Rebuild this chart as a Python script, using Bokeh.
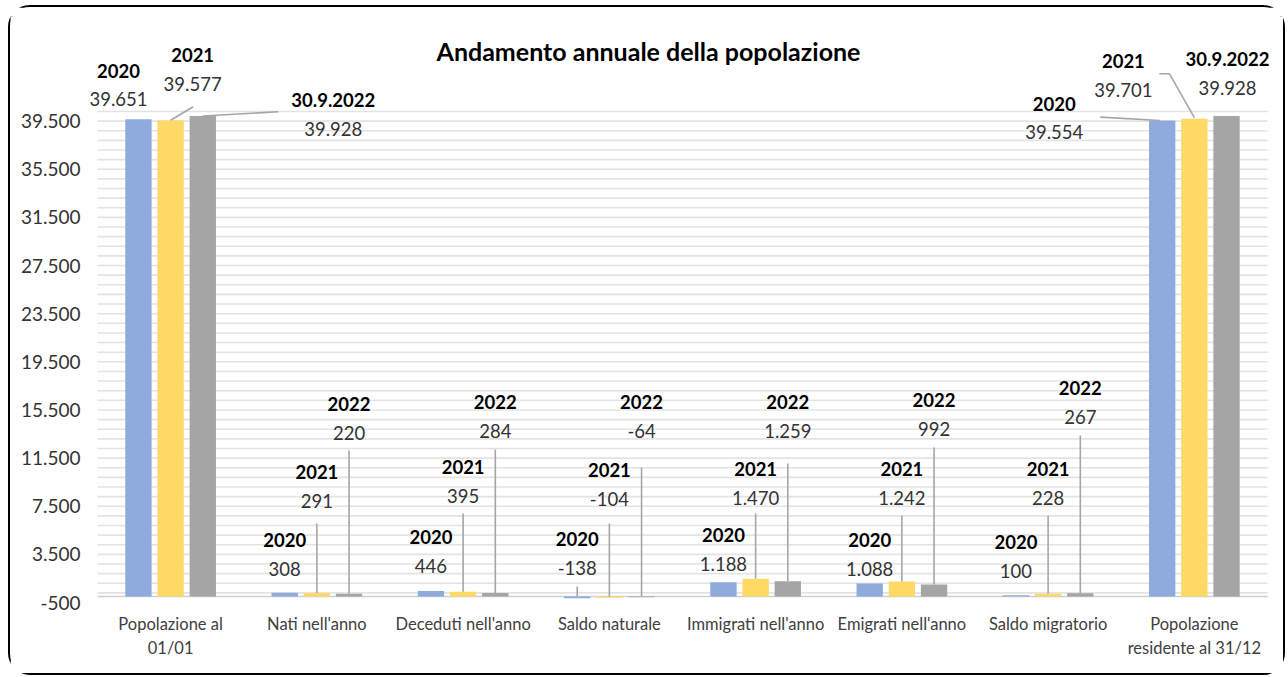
from bokeh.plotting import figure
from bokeh.models import FixedTicker, Range1d
from bokeh.embed import file_html
from bokeh.resources import INLINE
from bokeh.core.properties import value

# ---------------- data ----------------
categories = ["Popolazione al\n01/01", "Nati nell'anno", "Deceduti nell'anno", "Saldo naturale",
              "Immigrati nell'anno", "Emigrati nell'anno", "Saldo migratorio",
              "Popolazione\nresidente al 31/12"]
series_years = ["2020", "2021", "2022"]
series_years_totals = ["2020", "2021", "30.9.2022"]
values_2020 = [39651, 308, 446, -138, 1188, 1088, 100, 39554]
values_2021 = [39577, 291, 395, -104, 1470, 1242, 228, 39701]
values_2022 = [39928, 220, 284, -64, 1259, 992, 267, 39928]
y_tick_values = [-500, 3500, 7500, 11500, 15500, 19500, 23500, 27500, 31500, 35500, 39500]
title_text = "Andamento annuale della popolazione"

series_values = [values_2020, values_2021, values_2022]
colors = ["#8faadc", "#ffd966", "#a5a5a5"]
FONT = "Lato"

# ---------------- layout (pixels) ----------------
W, H = 1277, 670
PAGE_X0, PAGE_Y0 = 10, 7            # page position of the canvas
PLOT_LEFT_PAGE, PLOT_RIGHT_PAGE = 97, 1267   # plot area (gridlines) in page px
PLOT_BOTTOM_PAGE = 602                        # page y of the axis minimum
EXTRA_BOTTOM = 9                              # frame extends below plot area (px)
FRAME_TOP = 9
FRAME_BOTTOM = H - (PLOT_BOTTOM_PAGE + EXTRA_BOTTOM - PAGE_Y0)
frame_h = H - FRAME_TOP - FRAME_BOTTOM
Y0 = y_tick_values[0]
MINOR = 800
PX_PER_UNIT = 491.0 / 40800.0
Y_START = Y0 - EXTRA_BOTTOM / PX_PER_UNIT
Y_END = Y_START + frame_h / PX_PER_UNIT
NCAT = len(categories)
PX_PER_CAT = (PLOT_RIGHT_PAGE - PLOT_LEFT_PAGE) / NCAT
OFFSETS = [-0.22, 0.0, 0.22]
BAR_W = 0.18


def py2d(py):
    return Y0 + (PLOT_BOTTOM_PAGE - py) / PX_PER_UNIT


def px2d(px):
    return (px - PLOT_LEFT_PAGE) / PX_PER_CAT - 0.5


def fmt(v):
    return f"{v:,}".replace(",", ".")


X_START = px2d(PAGE_X0)
X_END = px2d(PAGE_X0 + W)
XL, XR = -0.5, NCAT - 0.5   # plot area edges in data

p = figure(width=W, height=H, output_backend="svg", toolbar_location=None,
           x_range=Range1d(X_START, X_END), y_range=Range1d(Y_START, Y_END),
           y_axis_location=None,
           min_border_left=0, min_border_right=0,
           min_border_top=FRAME_TOP, min_border_bottom=FRAME_BOTTOM)
p.outline_line_color = None
p.background_fill_color = "white"
p.border_fill_color = "white"
p.styles = {"border": "2px solid #000000", "border-radius": "22px",
            "margin-left": "8px", "margin-top": "5px"}
p.xgrid.grid_line_color = None
p.ygrid.grid_line_color = None

# gridlines (minor unit 800 from the axis minimum)
grid_ticks = [Y0 + MINOR * k for k in range(1, int((40300 - Y0) / MINOR) + 1)]
p.segment(x0=[XL] * len(grid_ticks), x1=[XR] * len(grid_ticks), y0=grid_ticks, y1=grid_ticks,
          line_color="#e3e3e3", line_width=1.6)

# y tick labels
p.text(x=[XL] * len(y_tick_values), y=y_tick_values, text=[fmt(t) for t in y_tick_values],
       x_offset=-17, text_font=value(FONT), text_font_size="19px", text_color="#333333",
       text_align="right", text_baseline="middle")

# x axis (category labels)
p.xaxis.ticker = FixedTicker(ticks=list(range(NCAT)))
p.xaxis.major_label_overrides = {i: c for i, c in enumerate(categories)}
p.xaxis.axis_line_color = None
p.xaxis.major_tick_line_color = None
p.xaxis.minor_tick_line_color = None
p.xaxis.major_label_standoff = 5 - EXTRA_BOTTOM
p.xaxis.major_label_text_font = FONT
p.xaxis.major_label_text_font_size = "16.5px"
p.xaxis.major_label_text_color = "#404040"

# horizontal axis line at zero
p.segment(x0=[XL], x1=[XR], y0=[0], y1=[0], line_color="#cfcfcf", line_width=1.6)

# bars
xs_cat = list(range(NCAT))
for s, vals in enumerate(series_values):
    p.vbar(x=[i + OFFSETS[s] for i in xs_cat], top=vals, bottom=0, width=BAR_W,
           fill_color=colors[s], line_color=None)

# ---------------- labels ----------------
LEADER = "#a6a6a6"
YEAR_GAP = 28.5  # px between year label and value label

# small categories: label value-center levels (page px) per series
levels_px = {
    1: [568, 500, 432],
    2: [565, 495, 430],
    3: [567, 498, 430],
    4: [563, 497, 430],
    5: [568, 497, 428],
    6: [570, 497, 416],
}
leader_tops_px = {
    1: [None, 523, 450],
    2: [None, 513, 449],
    3: [586, 523, 467],
    4: [None, 513, 463],
    5: [None, 515, 447],
    6: [None, 515, 435],
}

tx, ty, tt, txo, tyo, tbold = [], [], [], [], [], []
seg_x0, seg_y0, seg_x1, seg_y1 = [], [], [], []

for c in range(1, 7):
    for s in range(3):
        v = series_values[s][c]
        x = c + OFFSETS[s]
        lvl = py2d(levels_px[c][s])
        tx += [x, x]
        ty += [lvl, lvl]
        tt += [series_years[s], fmt(v)]
        txo += [0, 0]
        tyo += [-YEAR_GAP, 0]
        tbold += [True, False]
        top = leader_tops_px[c][s]
        if top is not None:
            seg_x0.append(x)
            seg_x1.append(x)
            seg_y0.append(max(v, 0))
            seg_y1.append(py2d(top))

# total categories: offsets of value label relative to bar top (dx, dy screen px, down positive)
big_offsets = {
    0: [(-20, -20), (22, -36.5), (130.5, 12.8)],
    7: [(-108, 11.6), (-71, -29), (1, -28)],
}
big_leaders = {
    0: [None, [(22.5, -13.5), (0, 0)], [(75.5, -4.2), (0, 0)]],
    7: [[(-62, -3.4), (-2, 0)], [(-35, -45), (-25, -45), (0, -1)], None],
}
for c in (0, 7):
    for s in range(3):
        v = series_values[s][c]
        x = c + OFFSETS[s]
        dx, dy = big_offsets[c][s]
        tx += [x, x]
        ty += [v, v]
        tt += [series_years_totals[s], fmt(v)]
        txo += [dx, dx]
        tyo += [dy - YEAR_GAP, dy]
        tbold += [True, False]
        pts = big_leaders[c][s]
        if pts:
            for (ax, ay), (bx, by) in zip(pts[:-1], pts[1:]):
                seg_x0.append(x + ax / PX_PER_CAT)
                seg_y0.append(v - ay / PX_PER_UNIT)
                seg_x1.append(x + bx / PX_PER_CAT)
                seg_y1.append(v - by / PX_PER_UNIT)

p.segment(x0=seg_x0, y0=seg_y0, x1=seg_x1, y1=seg_y1, line_color=LEADER, line_width=1.6)

for bold in (True, False):
    idx = [i for i, b in enumerate(tbold) if b == bold]
    p.text(x=[tx[i] for i in idx], y=[ty[i] for i in idx], text=[tt[i] for i in idx],
           x_offset=[txo[i] for i in idx], y_offset=[tyo[i] for i in idx],
           text_font=value(FONT), text_font_size="18.5px",
           text_font_style="bold" if bold else "normal",
           text_color="#000000" if bold else "#333333",
           text_align="center", text_baseline="middle")

# title
p.text(x=[px2d(648)], y=[py2d(50)], text=[title_text],
       text_font=value(FONT), text_font_style="bold", text_font_size="25px",
       text_color="#000000", text_align="center", text_baseline="middle")

open("out.html", "w").write(file_html(p, INLINE))
